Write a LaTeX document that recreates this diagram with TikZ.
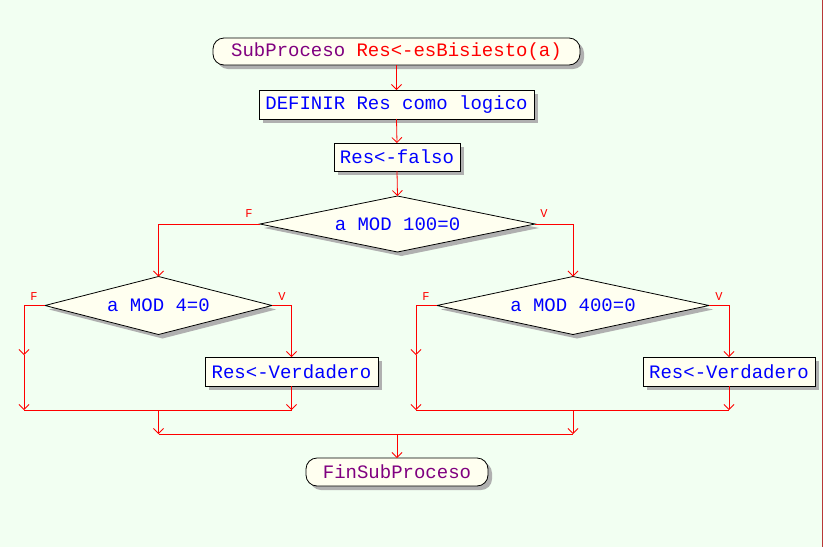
\documentclass[tikz,border=0pt]{standalone}
\usepackage{fontspec}
\setmonofont{Liberation Mono}
\usetikzlibrary{shapes.geometric,shadows,arrows.meta}
\definecolor{bgc}{HTML}{F2FFF2}
\definecolor{boxc}{HTML}{FFFFF0}
\definecolor{shc}{HTML}{B0B0B0}
\definecolor{txtb}{HTML}{0000FF}
\definecolor{txtp}{HTML}{800080}
\definecolor{linec}{HTML}{FF0000}
\definecolor{edgec}{HTML}{B83838}
\tikzset{
  base/.style={draw=black, line width=0.8pt, fill=boxc, inner sep=0pt, outer sep=0pt,
    font=\ttfamily\fontsize{19}{19}\selectfont, text=txtb,
    drop shadow={shadow xshift=4pt, shadow yshift=-4pt, fill=shc, opacity=1}},
  procbox/.style={base, rectangle},
  termbox/.style={base, rectangle, rounded corners=11pt},
  decbox/.style={base, diamond},
  dectext/.style={inner sep=0pt, font=\ttfamily\fontsize{19}{19}\selectfont, text=txtb},
  flow/.style={draw=linec, line width=0.8pt, -{Straight Barb[length=5pt,width=10pt,line width=0.8pt]}},
  plain/.style={draw=linec, line width=0.8pt},
  lab/.style={text=linec, font=\ttfamily\fontsize{12}{12}\selectfont, inner sep=0pt}
}
\begin{document}
\begin{tikzpicture}[x=1pt,y=-1pt]
\fill[bgc] (0,0) rectangle (823,547);
\useasboundingbox (0,0) rectangle (823,547);
\draw[edgec, line width=1pt] (822,0) -- (822,547);

\node[termbox, minimum width=367pt, minimum height=27pt] (start) at (396.5,51.5)
  {\textcolor{txtp}{SubProceso} \textcolor{linec}{Res<-esBisiesto(a)}};
\node[procbox, minimum width=275pt, minimum height=29pt] (def) at (396.5,104.5) {DEFINIR Res como logico};
\node[procbox, minimum width=126pt, minimum height=28pt] (falso) at (397,157) {Res<-falso};
\node[decbox, minimum width=275pt, minimum height=56pt] (d1) at (397.5,224) {};
\node[dectext] (d1t) at (d1.center) {a MOD 100=0};
\node[decbox, minimum width=227pt, minimum height=58pt] (d2) at (158.5,305.5) {};
\node[dectext] (d2t) at (d2.center) {a MOD 4=0};
\node[decbox, minimum width=272pt, minimum height=58pt] (d3) at (573,305.5) {};
\node[dectext] (d3t) at (d3.center) {a MOD 400=0};
\node[procbox, minimum width=173pt, minimum height=29pt] (v1) at (291.5,371.5) {Res<-Verdadero};
\node[procbox, minimum width=172pt, minimum height=29pt] (v2) at (729,371.5) {Res<-Verdadero};
\node[termbox, minimum width=182pt, minimum height=28pt] (fin) at (397,472) {\textcolor{txtp}{FinSubProceso}};

\node[lab] (f1) at (249,214) {F};
\node[lab] (t1) at (544,214) {V};
\node[lab] (f2) at (34,297) {F};
\node[lab] (t2) at (282,297) {V};
\node[lab] (f3) at (426,297) {F};
\node[lab] (t3) at (719,297) {V};

\coordinate (m2) at (24,355);
\coordinate (j2l) at (24,410);
\coordinate (j2r) at (291.5,410);
\coordinate (j2c) at (158.5,410);
\coordinate (m3) at (416,355);
\coordinate (j3l) at (416,410);
\coordinate (j3r) at (729,410);
\coordinate (j3c) at (573,410);
\coordinate (jl) at (158.5,434);
\coordinate (jr) at (573,434);
\coordinate (jc) at (397,434);

\draw[flow] (start.south) -- (def.north);
\draw[flow] (def.south) -- (falso.north);
\draw[flow] (falso.south) -- (d1.north);
\draw[flow] (d1.west) -| (d2.north);
\draw[flow] (d1.east) -| (d3.north);

\draw[flow] (d2.west) -| (m2);
\draw[flow] (m2) -- (j2l);
\draw[flow] (d2.east) -| (v1.north);
\draw[flow] (v1.south) -- (j2r);
\draw[plain] (j2l) -- (j2r);

\draw[flow] (d3.west) -| (m3);
\draw[flow] (m3) -- (j3l);
\draw[flow] (d3.east) -| (v2.north);
\draw[flow] (v2.south) -- (j3r);
\draw[plain] (j3l) -- (j3r);

\draw[flow] (j2c) -- (jl);
\draw[flow] (j3c) -- (jr);
\draw[plain] (jl) -- (jr);
\draw[flow] (jc) -- (fin.north);
\end{tikzpicture}
\end{document}
